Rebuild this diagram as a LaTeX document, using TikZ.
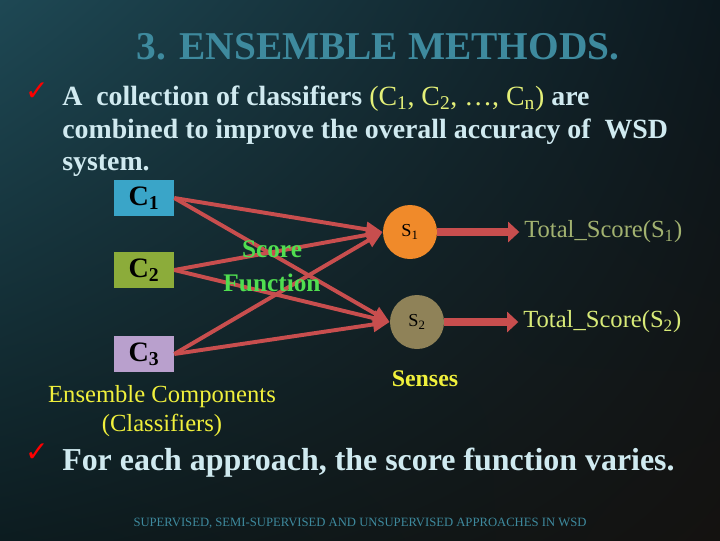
\documentclass[tikz,border=0pt]{standalone}
\usepackage{fontspec}
\setmainfont{Liberation Serif}
\newfontfamily\symfont{DejaVu Sans}
\usepackage{xcolor}
\usepackage{tikz}
\usetikzlibrary{positioning, arrows.meta, shadings}

\definecolor{titleblue}{RGB}{62,138,158}
\definecolor{bodyblue}{RGB}{208,234,240}
\definecolor{cyell}{RGB}{228,240,120}
\definecolor{arrowred}{RGB}{200,78,78}
\definecolor{boxone}{RGB}{58,165,200}
\definecolor{boxtwo}{RGB}{140,172,58}
\definecolor{boxthree}{RGB}{185,160,205}
\definecolor{senseone}{RGB}{240,138,42}
\definecolor{sensetwo}{RGB}{143,130,88}
\definecolor{scoregreen}{RGB}{80,222,80}
\definecolor{labyellow}{RGB}{240,240,60}
\definecolor{totone}{RGB}{162,178,112}
\definecolor{tottwo}{RGB}{216,234,120}
\definecolor{bgul}{RGB}{30,72,84}
\definecolor{bgur}{RGB}{12,24,30}
\definecolor{bgll}{RGB}{12,28,32}
\definecolor{bglr}{RGB}{20,18,16}

\begin{document}
\begin{tikzpicture}[x=0.025cm, y=-0.025cm]
      \tikzstyle{cbox}=[rectangle, minimum width=1.5cm, minimum height=0.9cm, inner sep=0pt, font=\fontsize{20}{22}\selectfont\bfseries]
      \tikzstyle{sense}=[circle, minimum size=1.35cm, inner sep=0pt, font=\fontsize{13}{14}\selectfont]
      \tikzstyle{edge}=[arrowred, line width=2.8pt, -{Triangle[length=0.42cm, width=0.36cm]}]
      \tikzstyle{fat}=[arrowred, line width=5.5pt, -{Triangle[length=0.28cm, width=0.5cm]}]
      \tikzstyle{body}=[anchor=base west, inner sep=0pt, text=bodyblue, font=\fontsize{19.8}{24}\selectfont\bfseries]
      \tikzstyle{tick}=[text=red, inner sep=0pt, font=\symfont\fontsize{20}{20}\selectfont]
      \useasboundingbox (0,0) rectangle (720,540);
      \shade[upper left=bgul, upper right=bgur, lower left=bgll, lower right=bglr] (0,0) rectangle (720,540);

      % heading and text
      \node[text=titleblue, font=\fontsize{28}{30}\selectfont\bfseries] (title) at (378,47) {3. ENSEMBLE METHODS.};
      \node[tick] (tick1) at (37,92) {✓};
      \node[body] (line1) at (62,105) {A\ \ collection of classifiers \textcolor{cyell}{\mdseries (C\textsubscript{1}, C\textsubscript{2}, …, C\textsubscript{n})} are};
      \node[body] (line2) at (62,138) {combined to improve the overall accuracy of\ \ WSD};
      \node[body] (line3) at (62,170) {system.};

      % classifiers
      \node[cbox, fill=boxone] (c1) at (144,198) {C\textsubscript{1}};
      \node[cbox, fill=boxtwo] (c2) at (144,270) {C\textsubscript{2}};
      \node[cbox, fill=boxthree] (c3) at (144,354) {C\textsubscript{3}};
      \node[text=labyellow, align=center, font=\fontsize{17.5}{21}\selectfont] (ens) at (162,411) {Ensemble Components\\(Classifiers)};

      % senses
      \node[sense, fill=senseone] (s1) at (410,232) {S\textsubscript{1}};
      \node[sense, fill=sensetwo] (s2) at (417,322) {S\textsubscript{2}};
      \node[text=labyellow, font=\fontsize{17}{18}\selectfont\bfseries] (senses) at (425,379) {Senses};

      \foreach \c in {c1,c2,c3} {
        \draw[edge] (\c.east) -- (s1.west);
        \draw[edge] (\c.east) -- (s2.west);
      }
      \node[text=scoregreen, align=center, font=\fontsize{18}{24}\selectfont\bfseries] (score) at (272,266) {Score\\Function};

      \node[text=totone, anchor=west, font=\fontsize{17.5}{18}\selectfont, right=2.05cm of s1] (tot1) {Total\_Score(S\textsubscript{1})};
      \node[text=tottwo, anchor=west, font=\fontsize{17.5}{18}\selectfont, right=1.85cm of s2] (tot2) {Total\_Score(S\textsubscript{2})};
      \draw[fat] (s1) -- (tot1);
      \draw[fat] (s2) -- (tot2);

      \node[tick] (tick2) at (37,453) {✓};
      \node[body, font=\fontsize{22.7}{24}\selectfont\bfseries] (note) at (62,470) {For each approach, the score function varies.};
      \node[text=titleblue, font=\fontsize{9}{10}\selectfont] (foot) at (360,523) {SUPERVISED, SEMI-SUPERVISED AND UNSUPERVISED APPROACHES IN WSD};
    \end{tikzpicture}
\end{document}
